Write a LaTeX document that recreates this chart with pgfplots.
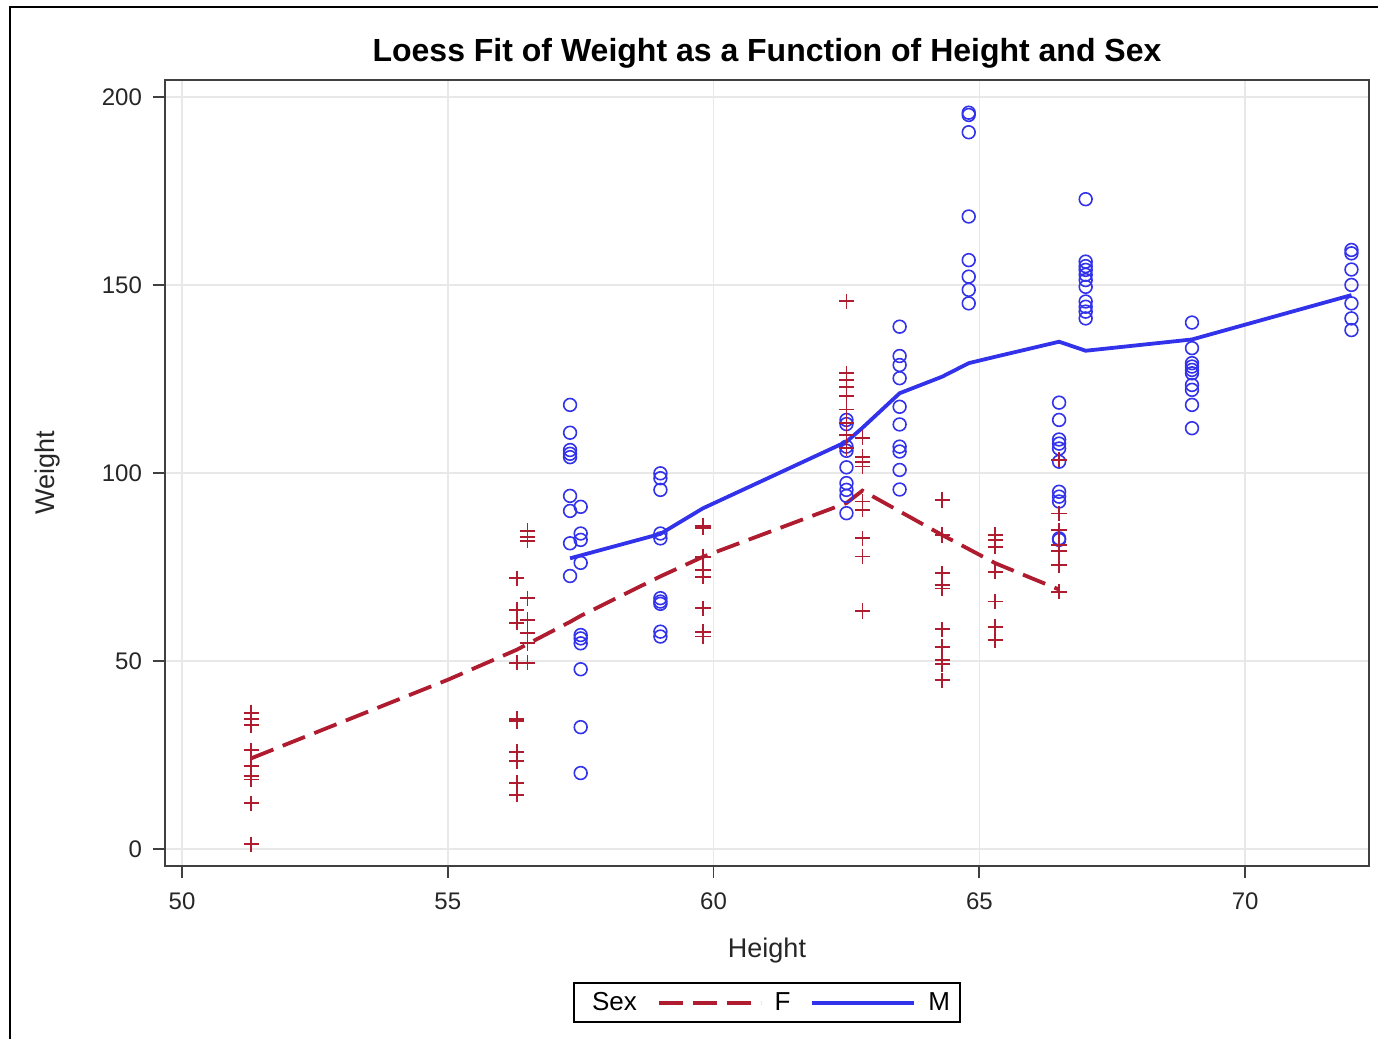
\documentclass[border=0pt]{standalone}
\usepackage{fontspec}
\setmainfont{Liberation Sans}
\usepackage{pgfplots}
\pgfplotsset{compat=1.18}
\definecolor{fred}{RGB}{175,28,48}
\definecolor{mblue}{RGB}{50,50,235}
\begin{document}
\begin{tikzpicture}
\begin{axis}[
 name=ax,
 scale only axis, width=602pt, height=393pt,
 xmin=49.68, xmax=72.33, ymin=-4.52, ymax=204.5,
 xtick={50,55,...,70}, ytick={0,50,...,200},
 grid=major, major grid style={color=black!9, line width=0.8pt},
 axis line style={black!75, line width=0.9pt},
 tick align=outside, tick pos=left, major tick length=6pt,
 tick style={black!75, line width=0.9pt},
 ticklabel style={font=\fontsize{12}{14}\selectfont, text=black!85},
 /pgf/number format/assume math mode=true,
 xticklabel style={yshift=-4pt},
 yticklabel style={xshift=-2pt},
 title={Loess Fit of Weight as a Function of Height and Sex},
 title style={at={(0.5,1)}, anchor=base, yshift=3pt, font=\bfseries\fontsize{16}{19}\selectfont},
 xlabel={Height}, ylabel={Weight},
 xlabel style={at={(axis description cs:0.5,-0.1069)}, anchor=center, font=\fontsize{13.5}{16}\selectfont, text=black!85},
 ylabel style={at={(axis description cs:-0.0972,0.5)}, anchor=center, font=\fontsize{13.5}{16}\selectfont, text=black!85},
 legend columns=-1,
 legend image code/.code={\draw[#1] (0pt,0pt) -- (51pt,0pt);},
 legend style={at={(axis description cs:0.5,-0.148)}, anchor=north, draw=black, line width=0.8pt,
   font=\fontsize{13}{15}\selectfont, inner xsep=3pt, inner ysep=2.5pt,
   /tikz/every even column/.append style={column sep=8pt},
   /tikz/every odd column/.append style={column sep=4pt}},
]
% Male scatter
\addplot[only marks, mark=o, mark size=3.2pt, mblue, line width=0.8pt, forget plot] table {
x y
57.3 118.1
57.3 110.7
57.3 106.1
57.3 105.1
57.3 104.2
57.3 93.9
57.3 89.9
57.3 81.3
57.3 72.6
57.5 91.0
57.5 83.9
57.5 82.2
57.5 76.1
57.5 56.9
57.5 56.0
57.5 54.7
57.5 47.8
57.5 32.4
57.5 20.2
59.0 99.9
59.0 98.6
59.0 95.5
59.0 83.9
59.0 82.6
59.0 66.7
59.0 65.8
59.0 65.2
59.0 57.8
59.0 56.5
62.5 114.1
62.5 113.0
62.5 107.0
62.5 105.9
62.5 101.5
62.5 97.3
62.5 95.5
62.5 93.9
62.5 89.3
63.5 138.9
63.5 131.1
63.5 128.7
63.5 125.2
63.5 117.6
63.5 112.9
63.5 107.0
63.5 105.7
63.5 100.8
63.5 95.6
64.8 195.8
64.8 195.2
64.8 190.6
64.8 168.2
64.8 156.6
64.8 152.2
64.8 148.7
64.8 145.1
66.5 118.7
66.5 114.1
66.5 108.9
66.5 107.8
66.5 106.5
66.5 103.0
66.5 95.0
66.5 93.7
66.5 92.4
66.5 82.6
66.5 82.2
67.0 172.8
67.0 156.2
67.0 155.0
67.0 154.0
67.0 152.7
67.0 151.3
67.0 149.5
67.0 145.6
67.0 144.2
67.0 142.9
67.0 141.1
69.0 140.0
69.0 133.2
69.0 129.2
69.0 128.3
69.0 127.4
69.0 126.5
69.0 123.4
69.0 122.1
69.0 118.1
69.0 111.9
72.0 159.3
72.0 158.4
72.0 154.1
72.0 150.0
72.0 145.1
72.0 141.1
72.0 138.0
};
% Female scatter
\addplot[only marks, mark=+, mark size=3.8pt, fred, line width=0.9pt, forget plot] table {
x y
51.3 36.2
51.3 34.6
51.3 33.0
51.3 26.3
51.3 22.1
51.3 19.5
51.3 18.5
51.3 12.2
51.3 1.3
56.3 72.0
56.3 63.6
56.3 60.2
56.3 49.5
56.3 34.6
56.3 34.0
56.3 25.9
56.3 23.4
56.3 17.6
56.3 14.4
56.5 84.6
56.5 83.0
56.5 82.0
56.5 66.7
56.5 61.0
56.5 57.4
56.5 54.8
56.5 49.5
59.8 86.0
59.8 85.4
59.8 77.7
59.8 74.2
59.8 72.4
59.8 64.0
59.8 57.8
59.8 56.5
62.5 145.7
62.5 126.5
62.5 124.7
62.5 122.8
62.5 120.5
62.5 116.9
62.5 113.2
62.5 110.1
62.5 106.6
62.8 109.4
62.8 104.3
62.8 103.0
62.8 101.7
62.8 92.4
62.8 90.2
62.8 82.6
62.8 77.8
62.8 63.3
64.3 92.8
64.3 83.5
64.3 73.3
64.3 70.2
64.3 69.3
64.3 58.4
64.3 53.8
64.3 50.3
64.3 49.2
64.3 44.9
65.3 83.5
65.3 82.2
65.3 80.4
65.3 73.7
65.3 65.8
65.3 59.1
65.3 55.6
66.5 103.5
66.5 89.2
66.5 84.8
66.5 80.9
66.5 79.3
66.5 79.1
66.5 75.5
66.5 68.4
};
\addlegendimage{empty legend}
\addlegendentry{Sex\hspace{10pt}}
% Female loess
\addplot[fred, line width=1.9pt, dash pattern=on 12pt off 5pt, no marks] table {
x y
51.3 24.1
55.0 45.0
56.3 53.0
56.5 54.5
57.3 60.4
57.5 62.0
59.0 72.5
59.8 77.7
62.5 92.0
62.8 95.3
64.3 83.5
65.3 76.0
66.5 69.0
};
\addlegendentry{F}
% Male loess
\addplot[mblue, line width=1.9pt, no marks] table {
x y
57.3 77.3
59.0 83.8
59.8 90.6
62.5 108.3
62.8 112.0
63.5 121.2
64.3 125.6
64.8 129.2
65.3 130.9
66.5 134.9
67.0 132.5
69.0 135.5
72.0 147.3
};
\addlegendentry{M}
\end{axis}
\draw[black, line width=1pt] ([shift={(-77.5pt,-86.5pt)}]ax.south west) -- ([shift={(-77.5pt,429.5pt)}]ax.south west) -- ([shift={(606.5pt,429.5pt)}]ax.south west);
\pgfresetboundingbox
\path ([shift={(-82.5pt,-86.5pt)}]ax.south west) rectangle ([shift={(606.5pt,433pt)}]ax.south west);
\end{tikzpicture}
\end{document}
